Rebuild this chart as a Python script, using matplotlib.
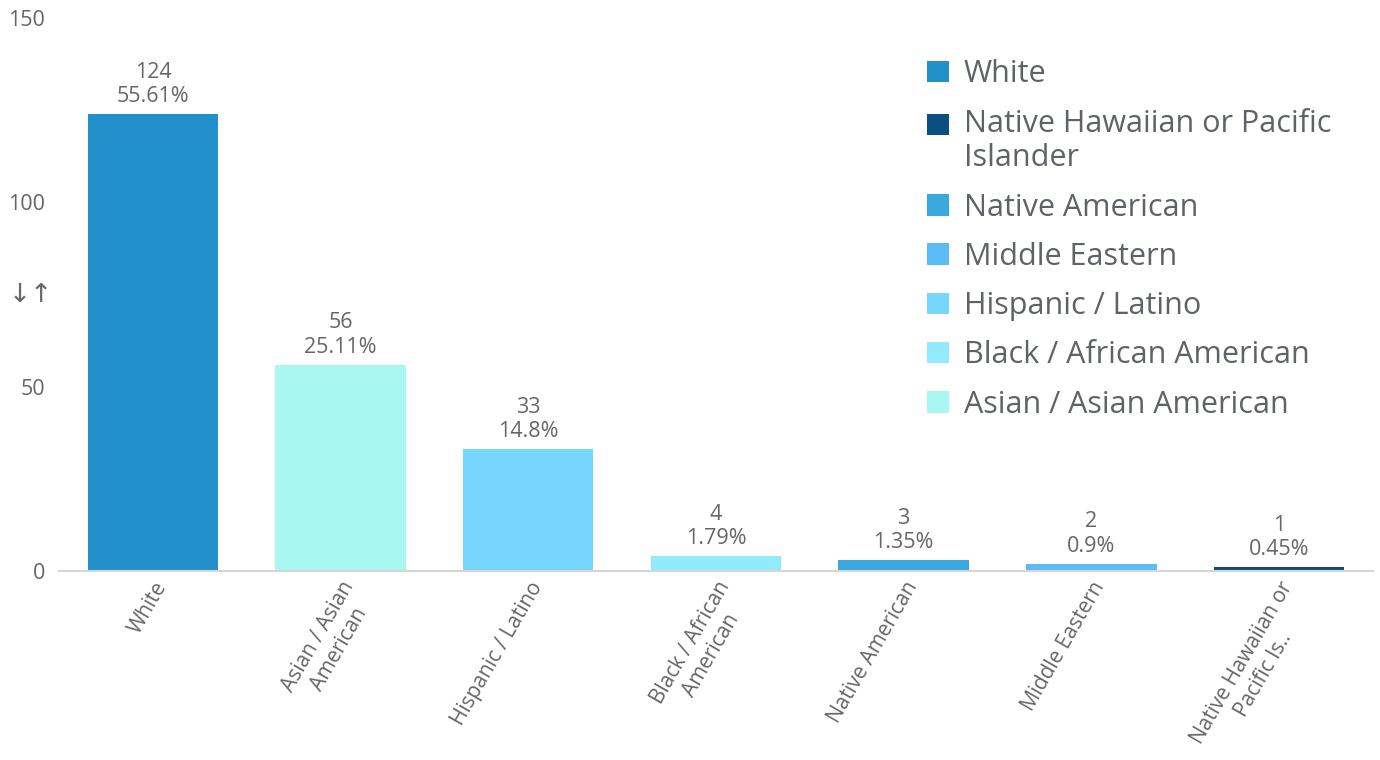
import matplotlib.pyplot as plt
from matplotlib.patches import Patch, Rectangle
from matplotlib.legend_handler import HandlerPatch
import numpy as np

plt.rcParams['font.family'] = ['Open Sans', 'DejaVu Sans']

categories = ['White', 'Asian / Asian American', 'Hispanic / Latino',
              'Black / African American', 'Native American', 'Middle Eastern',
              'Native Hawaiian or Pacific Islander']
tick_labels = ['White', 'Asian / Asian\nAmerican', 'Hispanic / Latino',
               'Black / African\nAmerican', 'Native American', 'Middle Eastern',
               'Native Hawaiian or\nPacific Is..']
counts = [124, 56, 33, 4, 3, 2, 1]
percents = ['55.61%', '25.11%', '14.8%', '1.79%', '1.35%', '0.9%', '0.45%']
colors = ['#2291cb', '#a8f7f0', '#76d6fd', '#90ecfc', '#39a8df', '#5bbcf5', '#0b4f80']

legend_order = ['White', 'Native Hawaiian or Pacific Islander', 'Native American',
                'Middle Eastern', 'Hispanic / Latino', 'Black / African American',
                'Asian / Asian American']
legend_text = {'Native Hawaiian or Pacific Islander': 'Native Hawaiian or Pacific\nIslander'}

txt = '#666666'


# legend square sits next to the first line of a two-line label
class TopPatch(HandlerPatch):
    def create_artists(self, legend, orig_handle, xdescent, ydescent,
                       width, height, fontsize, trans):
        p = Rectangle((-xdescent, -ydescent + 0.57 * fontsize), width, height)
        self.update_prop(p, orig_handle, legend)
        p.set_transform(trans)
        return [p]


fig = plt.figure(figsize=(13.8, 7.6), dpi=100)
ax = fig.add_axes([0.0428, 0.2487, 0.952, 0.7276])

x = np.arange(len(categories))
bars = ax.bar(x, counts, width=0.695, color=colors, zorder=2)

for xi, c, p in zip(x, counts, percents):
    ax.annotate(f'{c}\n{p}', (xi, c), xytext=(0, 5), textcoords='offset points',
                ha='center', va='bottom', fontsize=15.5, color=txt, linespacing=1.2)

ax.set_xlim(-0.5, len(categories) - 0.5)
ax.set_ylim(0, 150)
ax.set_yticks([0, 50, 100, 150])
ax.set_xticks(x)
ax.set_xticklabels(tick_labels, rotation=60, ha='right', rotation_mode='anchor',
                   multialignment='center', fontsize=15, color=txt)
ax.tick_params(axis='y', length=0, pad=10, labelsize=15.5, labelcolor=txt)
ax.tick_params(axis='x', length=0, pad=5)

for s in ['top', 'right', 'left']:
    ax.spines[s].set_visible(False)
ax.spines['bottom'].set_color('#d6d6d6')
ax.spines['bottom'].set_linewidth(1.5)

fig.text(0.006, 0.612, '↓↑', fontsize=19, color=txt, va='center', ha='left',
         family=['DejaVu Sans'])

cmap = dict(zip(categories, colors))
handles = [Patch(facecolor=cmap[k], edgecolor='none') for k in legend_order]
labels = [legend_text.get(k, k) for k in legend_order]
leg = fig.legend(handles, labels, loc='upper left', bbox_to_anchor=(0.652, 0.958),
                 frameon=False, fontsize=22, labelcolor='#5f6368',
                 handlelength=0.7, handleheight=0.7, handletextpad=0.5,
                 labelspacing=0.63, handler_map={handles[1]: TopPatch()})

plt.savefig('out.png', dpi=100)
